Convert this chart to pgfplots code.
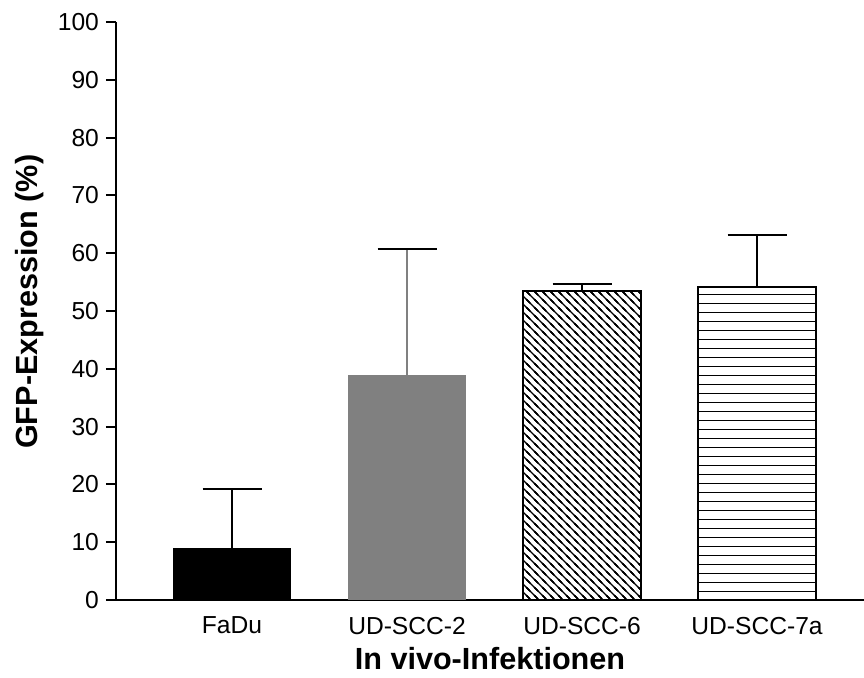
\documentclass[border=0pt]{standalone}
\usepackage{fontspec}
\setmainfont{Liberation Sans}
\usepackage{pgfplots}
\pgfplotsset{compat=1.18}
\usetikzlibrary{patterns}
\definecolor{bargray}{RGB}{128,128,128}
\pgfdeclarepatternformonly{hlines}{\pgfpoint{-1pt}{-1pt}}{\pgfpoint{10pt}{5.5pt}}{\pgfpoint{9pt}{4.5pt}}{%
  \pgfsetlinewidth{0.7pt}%
  \pgfpathmoveto{\pgfpoint{-1pt}{2.25pt}}%
  \pgfpathlineto{\pgfpoint{10pt}{2.25pt}}%
  \pgfusepath{stroke}}
\pgfdeclarepatternformonly{dlines}{\pgfpoint{-1pt}{-1pt}}{\pgfpoint{5pt}{5pt}}{\pgfpoint{4pt}{4pt}}{%
  \pgfsetlinewidth{0.6pt}%
  \pgfpathmoveto{\pgfpoint{-1pt}{5pt}}%
  \pgfpathlineto{\pgfpoint{5pt}{-1pt}}%
  \pgfpathmoveto{\pgfpoint{-1pt}{1pt}}%
  \pgfpathlineto{\pgfpoint{1pt}{-1pt}}%
  \pgfpathmoveto{\pgfpoint{3pt}{5pt}}%
  \pgfpathlineto{\pgfpoint{5pt}{3pt}}%
  \pgfusepath{stroke}}
\begin{document}
\begin{tikzpicture}
\begin{axis}[
  scale only axis, width=374pt, height=289pt,
  xmin=-0.663, xmax=3.611, ymin=0, ymax=100,
  axis x line=bottom, axis y line=left,
  axis line style={-, line width=1pt, black},
  ybar, bar width=0.674,
  xtick={0,1,2,3}, xticklabels={FaDu,UD-SCC-2,UD-SCC-6,UD-SCC-7a},
  x tick style={draw=none},
  ytick={0,10,...,100}, tick align=outside, major tick length=5pt,
  y tick style={line width=1pt, black},
  tick label style={font=\fontsize{12.3}{14}\selectfont},
  /pgf/number format/assume math mode=true,
  ylabel={GFP-Expression (\%)}, xlabel={In vivo-Infektionen},
  label style={font=\fontsize{15.3}{18}\selectfont\bfseries},
  xlabel style={at={(axis description cs:0.5,-0.101)}, anchor=center},
  ylabel style={at={(axis description cs:-0.115,0.516)}, anchor=center},
  clip=false,
  error bars/error mark options={rotate=90, mark size=14.75pt, line width=1pt},
]
\addplot[fill=black, draw=none, bar shift=0pt,
  error bars/.cd, y dir=plus, y explicit,
  error bar style={line width=1pt, draw=black}]
  coordinates {(0,8.95) +- (0,10.25)};
\addplot[fill=bargray, draw=none, bar shift=0pt,
  error bars/.cd, y dir=plus, y explicit,
  error bar style={line width=1pt, draw=bargray}]
  coordinates {(1,38.9) +- (0,21.9)};
\addplot[fill=white, draw=black, line width=1pt, bar shift=0pt,
  postaction={pattern=dlines},
  error bars/.cd, y dir=plus, y explicit,
  error bar style={line width=1pt, draw=black}]
  coordinates {(2,53.5) +- (0,1.2)};
\addplot[fill=white, draw=black, line width=1pt, bar shift=0pt,
  postaction={pattern=hlines},
  error bars/.cd, y dir=plus, y explicit,
  error bar style={line width=1pt, draw=black}]
  coordinates {(3,54.2) +- (0,8.9)};
\coordinate (O) at (rel axis cs:0,0);
\end{axis}
\pgfresetboundingbox
\path (O) ++(-58pt,-38.5pt) rectangle ++(432pt,338.5pt);
\end{tikzpicture}
\end{document}
